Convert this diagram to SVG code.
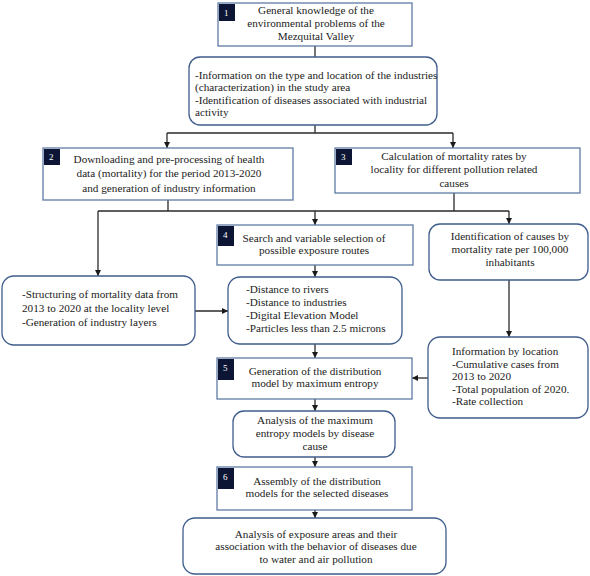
<svg xmlns="http://www.w3.org/2000/svg" width="590" height="576" viewBox="0 0 590 576">
<defs>
<marker id="ah" viewBox="0 0 10 10" refX="10" refY="5" markerWidth="6" markerHeight="6" orient="auto" markerUnits="userSpaceOnUse">
<path d="M0,0 L10,5 L0,10 z" fill="#1a1a1a"/>
</marker>
<style>
.box{fill:#fff;stroke:#5f7aa3;stroke-width:1.3}
.rbox{fill:#fff;stroke:#3f5d8c;stroke-width:1.3}
.badge{fill:#0c1634}
.bn{font-family:"Liberation Serif",serif;font-size:9px;fill:#fff}
text{font-family:"Liberation Serif","Times New Roman",serif;font-size:11.2px;fill:#222}
.c{text-anchor:middle}
.ln{fill:none;stroke:#2a2a2a;stroke-width:1.3}
.ar{fill:none;stroke:#2a2a2a;stroke-width:1.3;marker-end:url(#ah)}
</style>
</defs>
<rect width="590" height="576" fill="#fff"/>
<g id="connectors">
<path class="ln" d="M315,46 V57"/>
<path class="ln" d="M315,125 V133 M167,133 H453"/>
<path class="ar" d="M167,133 V148"/>
<path class="ar" d="M453,133 V148"/>
<path class="ln" d="M168,200 V211 M454,193 V211 M98,211 H509"/>
<path class="ar" d="M98,211 V276"/>
<path class="ar" d="M315,211 V225"/>
<path class="ar" d="M509,211 V224"/>
<path class="ar" d="M315,265 V277"/>
<path class="ar" d="M195,311 H228"/>
<path class="ar" d="M315,344 V358"/>
<path class="ar" d="M509,280 V337"/>
<path class="ar" d="M428,378 H412"/>
<path class="ar" d="M315,399 V411"/>
<path class="ar" d="M315,457 V467"/>
<path class="ar" d="M315,510 V518"/>
</g>
<g id="n1">
<rect class="box" x="218" y="3" width="194" height="43"/>
<rect class="badge" x="219" y="4" width="16" height="17"/>
<text class="bn" x="224" y="16">1</text>
<text class="c" x="316" y="14">General knowledge of the</text>
<text class="c" x="316" y="27">environmental problems of the</text>
<text class="c" x="316" y="40">Mezquital Valley</text>
</g>
<g id="n_info">
<rect class="rbox" x="189" y="57" width="248" height="68" rx="11"/>
<text x="195" y="79">-Information on the type and location of the industries</text>
<text x="195" y="91">(characterization) in the study area</text>
<text x="195" y="103.5">-Identification of diseases associated with industrial</text>
<text x="195" y="116">activity</text>
</g>
<g id="n2">
<rect class="box" x="43" y="148" width="250" height="52"/>
<rect class="badge" x="44" y="149" width="16" height="16"/>
<text class="bn" x="49" y="160">2</text>
<text class="c" x="169" y="162.5">Downloading and pre-processing of health</text>
<text class="c" x="169" y="177">data (mortality) for the period 2013-2020</text>
<text class="c" x="169" y="191.5">and generation of industry information</text>
</g>
<g id="n3">
<rect class="box" x="335" y="148" width="245" height="45"/>
<rect class="badge" x="336" y="149" width="16" height="16"/>
<text class="bn" x="341" y="160">3</text>
<text class="c" x="454" y="159.5">Calculation of mortality rates by</text>
<text class="c" x="454" y="173">locality for different pollution related</text>
<text class="c" x="454" y="186.5">causes</text>
</g>
<g id="n4">
<rect class="box" x="217" y="225" width="196" height="40"/>
<rect class="badge" x="218" y="226" width="16" height="20"/>
<text class="bn" x="223" y="238">4</text>
<text class="c" x="314" y="241.5">Search and variable selection of</text>
<text class="c" x="314" y="254">possible exposure routes</text>
</g>
<g id="n_ident">
<rect class="rbox" x="429" y="224" width="159" height="56" rx="11"/>
<text class="c" x="510" y="239.5">Identification of causes by</text>
<text class="c" x="510" y="253">mortality rate per 100,000</text>
<text class="c" x="510" y="266">inhabitants</text>
</g>
<g id="n_struct">
<rect class="rbox" x="2" y="276" width="193" height="69" rx="12"/>
<text x="22" y="297.5">-Structuring of mortality data from</text>
<text x="22" y="311.5">2013 to 2020 at the locality level</text>
<text x="22" y="325.5">-Generation of industry layers</text>
</g>
<g id="n_dist">
<rect class="rbox" x="228" y="277" width="174" height="67" rx="12"/>
<text x="246" y="293">-Distance to rivers</text>
<text x="246" y="306">-Distance to industries</text>
<text x="246" y="319">-Digital Elevation Model</text>
<text x="246" y="332">-Particles less than 2.5 microns</text>
</g>
<g id="n5">
<rect class="box" x="217" y="358" width="195" height="41"/>
<rect class="badge" x="218" y="359" width="16" height="21"/>
<text class="bn" x="223" y="371">5</text>
<text class="c" x="315" y="374.5">Generation of the distribution</text>
<text class="c" x="315" y="387">model by maximum entropy</text>
</g>
<g id="n_loc">
<rect class="rbox" x="428" y="337" width="160" height="81" rx="12"/>
<text x="452" y="355">Information by location</text>
<text x="452" y="367.5">-Cumulative cases from</text>
<text x="452" y="380">2013 to 2020</text>
<text x="452" y="392.5">-Total population of 2020.</text>
<text x="452" y="405">-Rate collection</text>
</g>
<g id="n_anal">
<rect class="rbox" x="233" y="411" width="162" height="46" rx="11"/>
<text class="c" x="315" y="423.5">Analysis of the maximum</text>
<text class="c" x="315" y="436.5">entropy models by disease</text>
<text class="c" x="315" y="449.5">cause</text>
</g>
<g id="n6">
<rect class="box" x="217" y="467" width="195" height="43"/>
<rect class="badge" x="218" y="468" width="16" height="21"/>
<text class="bn" x="223" y="480">6</text>
<text class="c" x="317" y="485">Assembly of the distribution</text>
<text class="c" x="317" y="497">models for the selected diseases</text>
</g>
<g id="n_final">
<rect class="rbox" x="183" y="518" width="263" height="56" rx="12"/>
<text class="c" x="316" y="537.5">Analysis of exposure areas and their</text>
<text class="c" x="316" y="550">association with the behavior of diseases due</text>
<text class="c" x="316" y="562.5">to water and air pollution</text>
</g>
</svg>
